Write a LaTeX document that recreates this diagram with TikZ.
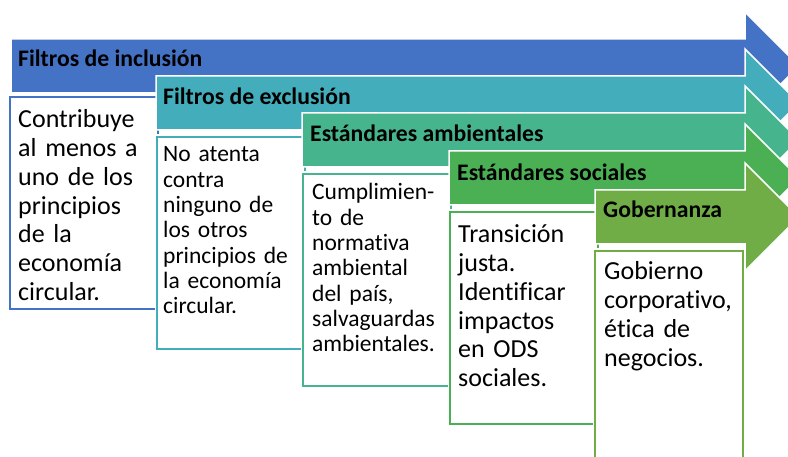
\documentclass[tikz,border=0pt]{standalone}
\usepackage{fontspec}
\setmainfont{Carlito}[Ligatures=NoCommon]
\usetikzlibrary{positioning}

\definecolor{stageA}{HTML}{4472C4}
\definecolor{stageB}{HTML}{43ADBC}
\definecolor{stageC}{HTML}{46B48C}
\definecolor{stageD}{HTML}{4AB053}
\definecolor{stageE}{HTML}{70AD47}

\tikzset{
  stage/.style={fill=#1, draw=white, line width=1.5pt, line join=miter},
  stagelabel/.style={anchor=base west, inner sep=0pt, font=\bfseries\fontsize{23.7}{28}\selectfont},
  descbox/.style={draw=#1, line width=2pt, fill=white, preaction={draw=white, line width=5pt},
    minimum width=148pt, minimum height=212pt, anchor=north west, inner sep=0pt},
  desctext/.style={anchor=base west, inner sep=0pt, text width=140pt, align=left,
    font=\fontsize{26}{28.7}\selectfont},
  desctextsmall/.style={desctext, font=\fontsize{23.5}{25.3}\selectfont},
}

\begin{document}
\begin{tikzpicture}[x=1pt, y=-1pt]
                \useasboundingbox (0,0) rectangle (788,457);
                \clip (0,0) rectangle (788,457);
                \draw [stage=stageA] (11,39) -- (745,39) -- (745,12) -- (799,66) -- (745,120) -- (745,93) -- (11,93) -- cycle;
                \node [stagelabel] (inclusion) at (18,67) {Filtros de inclusión};
                \node [descbox=stageA] (box1) at (9,96) {};
                \node [desctext] (text1) at ([shift={(9,32)}]box1.north west) {Contribuye\\al menos a\\uno de los\\principios\\de la\\economía\\circular.};
                \draw [stage=stageB] (156,76) -- (745,76) -- (745,49) -- (799,103) -- (745,157) -- (745,130) -- (156,130) -- cycle;
                \node [stagelabel] (exclusion) at (163,105) {Filtros de exclusión};
                \node [descbox=stageB] (box2) at (156,136) {};
                \node [desctextsmall] (text2) at ([shift={(7,26)}]box2.north west) {No atenta\\contra\\ninguno de\\los otros\\principios de\\la economía\\circular.};
                \draw [stage=stageC] (302,113) -- (745,113) -- (745,86) -- (799,140) -- (745,194) -- (745,167) -- (302,167) -- cycle;
                \node [stagelabel] (ambientales) at (310,142) {Estándares ambientales};
                \node [descbox=stageC] (box3) at (302,173) {};
                \node [desctextsmall] (text3) at ([shift={(10,27)}]box3.north west) {Cumplimien-\\to de\\normativa\\ambiental\\del país,\\salvaguardas\\ambientales.};
                \draw [stage=stageD] (449,151) -- (745,151) -- (745,124) -- (799,178) -- (745,232) -- (745,205) -- (449,205) -- cycle;
                \node [stagelabel] (sociales) at (457,181) {Estándares sociales};
                \node [descbox=stageD] (box4) at (449,211) {};
                \node [desctext] (text4) at ([shift={(9,32)}]box4.north west) {Transición\\justa.\\Identificar\\impactos\\en ODS\\sociales.};
                \draw [stage=stageE] (595,190) -- (745,190) -- (745,163) -- (799,217) -- (745,271) -- (745,244) -- (595,244) -- cycle;
                \node [stagelabel] (gobernanza) at (603,218) {Gobernanza};
                \node [descbox=stageE] (box5) at (594,250) {};
                \node [desctext] (text5) at ([shift={(10,30)}]box5.north west) {Gobierno\\corporativo,\\ética de\\negocios.};
\end{tikzpicture}
\end{document}
